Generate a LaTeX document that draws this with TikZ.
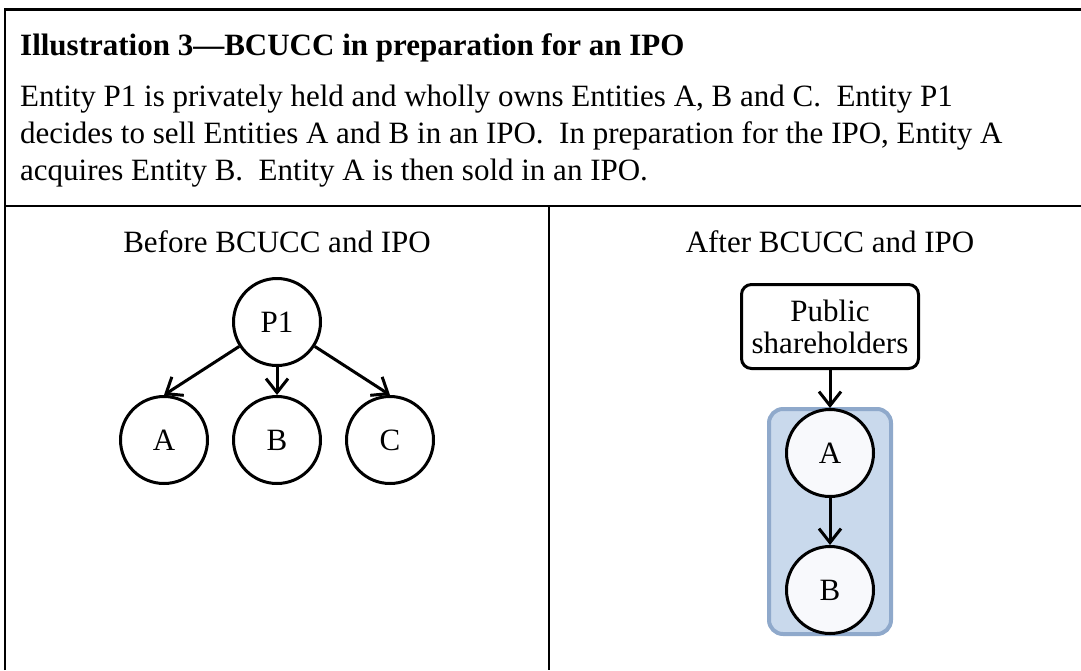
\documentclass[tikz,border=0pt]{standalone}
\usepackage{fontspec}
\setmainfont{Liberation Serif}
\usetikzlibrary{positioning,fit,backgrounds,arrows.meta}

\definecolor{grpfill}{HTML}{C9D9EC}
\definecolor{grpline}{HTML}{8FA9CB}
\definecolor{entfill}{HTML}{F8F9FC}

\tikzset{
  txt/.style={inner sep=0pt, font=\fontsize{31}{32}\selectfont},
  entity/.style={circle, draw, fill=white, line width=3pt, minimum size=87pt,
    inner sep=0pt, font=\fontsize{31}{32}\selectfont},
  holders/.style={draw, rounded corners=10pt, line width=3pt, minimum width=177pt,
    minimum height=84pt, align=center, inner sep=0pt, font=\fontsize{31}{32}\selectfont},
  group/.style={draw=grpline, fill=grpfill, line width=4pt, rounded corners=14pt,
    inner xsep=16pt, inner ysep=-1pt},
  own/.style={-{Straight Barb[length=14pt,width=22pt]}, line width=3pt},
  rule/.style={line width=2.5pt}
}

\begin{document}
\begin{tikzpicture}[x=1pt, y=-1pt]
\useasboundingbox (0,0) rectangle (1081,670);
% table rules
\draw[rule] (5,670) -- (5,9.5) -- (1081,9.5);
\draw[rule] (5,206) -- (1081,206);
\draw[rule] (549,206) -- (549,670);

% heading and text
\node[txt, anchor=base west, font=\bfseries\fontsize{31}{32}\selectfont] (title) at (20,55)
  {Illustration 3---BCUCC in preparation for an IPO};
\node[txt, anchor=base west] (line1) at (20,106)
  {Entity P1 is privately held and wholly owns Entities A, B and C.\ \ Entity P1};
\node[txt, anchor=base west] (line2) at (20,143)
  {decides to sell Entities A and B in an IPO.\ \ In preparation for the IPO, Entity A};
\node[txt, anchor=base west] (line3) at (20,180)
  {acquires Entity B.\ \ Entity A is then sold in an IPO.};

% before
\node[txt, anchor=base] (before) at (277,252) {Before BCUCC and IPO};
\node[entity] (p1) at (277,322) {P1};
\node[entity, below=28pt of p1] (b) {B};
\node[entity, left=23pt of b] (a) {A};
\node[entity, right=23pt of b] (c) {C};
\draw[own] (p1) -- (a.north);
\draw[own] (p1) -- (b);
\draw[own] (p1) -- (c.north);

% after
\node[txt, anchor=base] (after) at (830,252) {After BCUCC and IPO};
\node[holders] (pub) at (830,326.5) {Public\\shareholders};
\node[entity, fill=entfill, below=38pt of pub] (a2) {A};
\node[entity, fill=entfill, below=47pt of a2] (b2) {B};
\begin{scope}[on background layer]
\node[group, fit=(a2)(b2)] (ipo) {};
\end{scope}
\draw[own] (pub) -- (a2);
\draw[own] (a2) -- (b2);
\end{tikzpicture}
\end{document}
